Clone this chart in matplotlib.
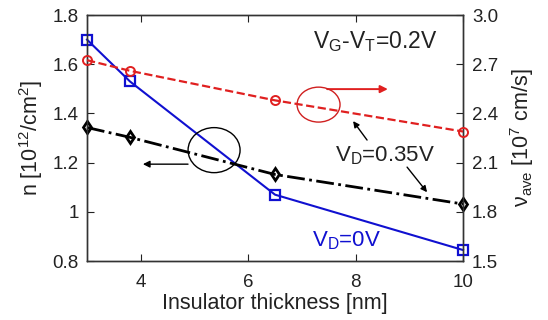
import matplotlib
matplotlib.use("Agg")
import matplotlib.pyplot as plt
from matplotlib.patches import Ellipse

plt.rcParams['font.family'] = ['Liberation Sans', 'DejaVu Sans']
plt.rcParams['mathtext.fontset'] = 'custom'
plt.rcParams['mathtext.rm'] = 'Liberation Sans'
plt.rcParams['mathtext.it'] = 'Liberation Sans:italic'

# Insulator thickness [nm]
thickness = [3.0, 3.8, 6.5, 10.0]
# Sheet carrier density n [1e12 /cm^2]
n_vd0 = [1.70, 1.53, 1.07, 0.845]
n_vd035 = [1.343, 1.303, 1.152, 1.032]
# Average velocity [1e7 cm/s] at V_D = 0.35 V
v_ave = [2.725, 2.66, 2.48, 2.29]

left_ticks = [0.8, 1.0, 1.2, 1.4, 1.6, 1.8]
left_labels = ['0.8', '1', '1.2', '1.4', '1.6', '1.8']
right_ticks = [1.5, 1.8, 2.1, 2.4, 2.7, 3.0]
right_labels = ['1.5', '1.8', '2.1', '2.4', '2.7', '3.0']
x_ticks = [4, 6, 8, 10]

txt = '#222222'
fig = plt.figure(figsize=(5.48, 3.2), dpi=100)
ax = fig.add_axes([0.1588, 0.184, 0.6862, 0.769])
ax2 = ax.twinx()

ax.plot(thickness, n_vd0, '-s', color='#1010d0', lw=1.5, ms=7, mfc='none',
        mew=1.6, clip_on=False, zorder=4)
ax.plot(thickness, n_vd035, '-.d', color='black', lw=2.0, ms=6.5, mfc='none',
        mew=2.0, clip_on=False, zorder=4)
ax2.plot(thickness, v_ave, '--o', color='#e02020', lw=1.6, ms=6.5, mfc='none',
         mew=1.4, clip_on=False, zorder=4)

ax.set_xlim(3, 10)
ax.set_ylim(0.8, 1.8)
ax2.set_ylim(1.5, 3.0)
ax.set_xticks(x_ticks)
ax.set_xticklabels([str(t) for t in x_ticks])
ax.set_yticks(left_ticks)
ax.set_yticklabels(left_labels)
ax2.set_yticks(right_ticks)
ax2.set_yticklabels(right_labels)

ax.tick_params(axis='x', direction='in', length=5, top=True, labelsize=13.5,
               colors=txt, pad=9)
ax.tick_params(axis='y', direction='in', length=5, labelsize=13.5, colors=txt,
               pad=6)
ax2.tick_params(axis='y', direction='in', length=5, labelsize=13.5, colors=txt,
                pad=6.5)
for a in (ax, ax2):
    for s in a.spines.values():
        s.set_color('#333333')
        s.set_linewidth(1.0)

ax.set_xlabel('Insulator thickness [nm]', fontsize=15.5, color=txt, labelpad=2)
ax.set_ylabel('n [10$^\\mathregular{12}$/cm$^\\mathregular{2}$]', fontsize=15.5,
              color=txt, labelpad=5)
ax2.set_ylabel('ν$_\\mathregular{ave}$ [10$^\\mathregular{7}$ cm/s]', fontsize=15.5,
               color=txt, rotation=90, labelpad=7)

# Group markers: ellipses with arrows pointing to the relevant axis
ax.add_patch(Ellipse((7.31, 1.436), 0.80, 0.142, fill=False, color='#d02020',
                     lw=1.0, zorder=5))
ax.annotate('', xy=(8.60, 1.499), xytext=(7.47, 1.499),
            arrowprops=dict(arrowstyle='-|>', color='#e02020', lw=1.4,
                            mutation_scale=11, shrinkA=0, shrinkB=0))
ax.add_patch(Ellipse((5.365, 1.251), 0.968, 0.183, fill=False, color='black',
                     lw=1.0, zorder=5))
ax.annotate('', xy=(4.04, 1.194), xytext=(4.88, 1.194),
            arrowprops=dict(arrowstyle='-|>', color='black', lw=1.0,
                            mutation_scale=10, shrinkA=0, shrinkB=0))

# Labels
ax.text(7.21, 1.665, 'V$_\\mathregular{G}$-V$_\\mathregular{T}$=0.2V',
        fontsize=16.5, color=txt, va='baseline', ha='left')
ax.text(7.617, 1.204, 'V$_\\mathregular{D}$=0.35V', fontsize=16, color=txt,
        va='baseline', ha='left')
ax.text(7.19, 0.861, 'V$_\\mathregular{D}$=0V', fontsize=16, color='#1010d0',
        va='baseline', ha='left')
ax.annotate('', xy=(7.953, 1.369), xytext=(8.213, 1.292),
            arrowprops=dict(arrowstyle='-|>', color='black', lw=1.0,
                            mutation_scale=9, shrinkA=0, shrinkB=0))
ax.annotate('', xy=(9.330, 1.080), xytext=(8.958, 1.182),
            arrowprops=dict(arrowstyle='-|>', color='black', lw=1.0,
                            mutation_scale=9, shrinkA=0, shrinkB=0))

fig.savefig('out.png', dpi=100)
